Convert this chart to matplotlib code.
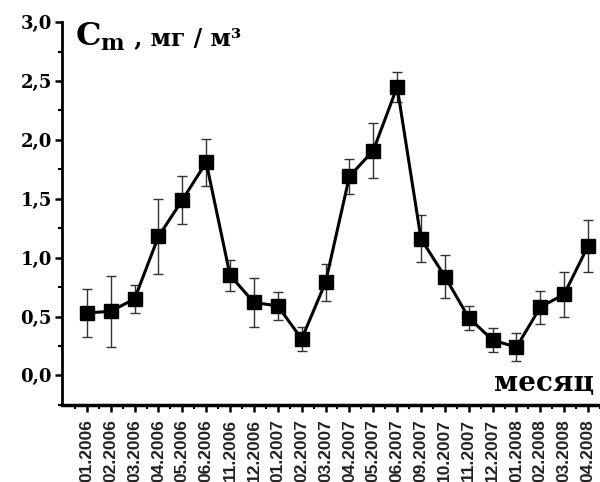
import matplotlib.pyplot as plt
from matplotlib.ticker import MultipleLocator, FuncFormatter

months = ["01.2006", "02.2006", "03.2006", "04.2006", "05.2006", "06.2006",
          "11.2006", "12.2006", "01.2007", "02.2007", "03.2007", "04.2007",
          "05.2007", "06.2007", "09.2007", "10.2007", "11.2007", "12.2007",
          "01.2008", "02.2008", "03.2008", "04.2008"]
cm = [0.53, 0.545, 0.65, 1.18, 1.49, 1.81, 0.85, 0.62, 0.59, 0.31, 0.79, 1.69,
      1.91, 2.45, 1.16, 0.84, 0.49, 0.30, 0.24, 0.58, 0.69, 1.10]
err = [0.20, 0.30, 0.12, 0.32, 0.20, 0.20, 0.13, 0.21, 0.12, 0.10, 0.16, 0.15,
       0.23, 0.13, 0.20, 0.18, 0.10, 0.10, 0.12, 0.14, 0.19, 0.22]

x = list(range(len(months)))

fig = plt.figure(figsize=(6.0, 4.82), dpi=100)
ax = fig.add_axes([0.103, 0.16, 0.897, 0.794])

ax.errorbar(x, cm, yerr=err, fmt="none", ecolor="#333333", elinewidth=1.0,
            capsize=3.5, capthick=1.0, zorder=2)
ax.plot(x, cm, color="black", lw=2.2, marker="s", markersize=10, zorder=3)

ax.set_xlim(-1.05, 21.2)
ax.set_ylim(-0.25, 3.0)

for s in ["top", "right"]:
    ax.spines[s].set_visible(False)
ax.spines["left"].set_linewidth(2)
ax.spines["bottom"].set_linewidth(2.5)

ax.yaxis.set_major_locator(MultipleLocator(0.5))
ax.yaxis.set_minor_locator(MultipleLocator(0.25))
ax.yaxis.set_major_formatter(FuncFormatter(lambda v, p: f"{v:.1f}".replace(".", ",")))
ax.set_xticks(x)
ax.set_xticks([i + 0.5 for i in range(-1, len(months))], minor=True)
ax.set_xticklabels(months, rotation=90, fontsize=12.5, fontweight="bold",
                   family="Liberation Sans", color="#222222")
for lab in ax.get_yticklabels():
    lab.set_family("DejaVu Serif")
    lab.set_fontweight("bold")
    lab.set_fontsize(13)

ax.tick_params(axis="both", which="major", direction="out", length=5, width=1.8)
ax.tick_params(axis="both", which="minor", direction="out", length=3, width=1.5)
ax.tick_params(axis="y", pad=2)
ax.tick_params(axis="x", pad=5)

# title label: big C with subscript, then units
t1 = ax.text(-0.5, 2.88, r"C$_\mathregular{m}$", fontsize=23, fontweight="bold",
             family="DejaVu Serif", ha="left", va="center")
ax.annotate(" , мг / м³", xy=(1.0, 0.45), xycoords=t1, fontsize=17,
            fontweight="bold", family="DejaVu Serif", ha="left", va="center")
ax.text(21.25, -0.07, "месяц", fontsize=20, fontweight="bold",
        family="DejaVu Serif", ha="right", va="center")

fig.savefig("out.png", dpi=100)
